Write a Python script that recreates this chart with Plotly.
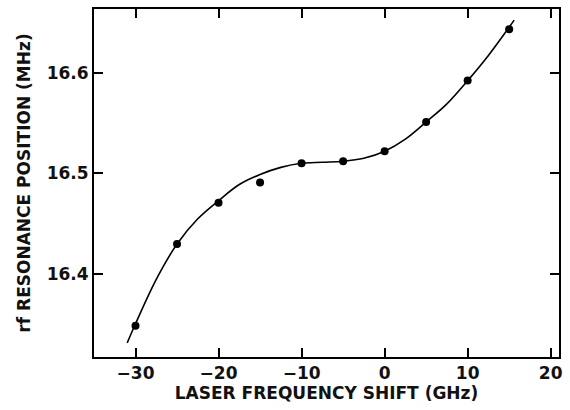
import plotly.graph_objects as go

# Measured points
shift_ghz = [-30, -25, -20, -15, -10, -5, 0, 5, 10, 15]
rf_mhz = [16.349, 16.430, 16.471, 16.491, 16.510, 16.512, 16.522, 16.551, 16.592, 16.643]

# Smooth fitted curve
curve_x = [-31, -30, -27.5, -25, -22.5, -20, -17.5, -15, -12.5, -10, -7.5, -5, -2.5, 0, 2.5, 5, 7.5, 10, 12.5, 15, 15.6]
curve_y = [16.332, 16.351, 16.395, 16.430, 16.455, 16.473, 16.489, 16.499, 16.506, 16.510, 16.511, 16.512, 16.515, 16.522, 16.534, 16.551, 16.569, 16.592, 16.617, 16.645, 16.652]

x_ticks = [-30, -20, -10, 0, 10, 20]
y_ticks = [16.4, 16.5, 16.6]

font = dict(family="DejaVu Sans, Arial, sans-serif", size=17, color="#111111")

fig = go.Figure()
fig.add_trace(go.Scatter(x=curve_x, y=curve_y, mode="lines",
                         line=dict(color="black", width=1.6, shape="spline", smoothing=1.0),
                         hoverinfo="skip", showlegend=False))
fig.add_trace(go.Scatter(x=shift_ghz, y=rf_mhz, mode="markers",
                         marker=dict(color="black", size=8), showlegend=False))

axis_common = dict(showgrid=False, zeroline=False, showline=True, linecolor="black",
                   linewidth=2, mirror="ticks", ticks="inside", ticklen=9,
                   tickwidth=1.5, tickcolor="black", tickfont=font)

fig.update_xaxes(range=[-35.0, 21.0], tickvals=x_ticks,
                 ticktext=[("<b>\u2212" + str(-v) + "</b>") if v < 0 else f"<b>{v}</b>" for v in x_ticks],
                 title=dict(text="<b>LASER FREQUENCY SHIFT (GHz)</b>", font=font, standoff=3),
                 **axis_common)
fig.update_yaxes(range=[16.318, 16.663], tickvals=y_ticks,
                 ticktext=[f"<b>{v:.1f}</b>" for v in y_ticks],
                 title=dict(text="<b>rf RESONANCE POSITION (MHz)</b>", font=font, standoff=12),
                 **axis_common)

fig.update_layout(width=570, height=410, margin=dict(l=94, r=9, t=7, b=53),
                  paper_bgcolor="white", plot_bgcolor="white", font=font)

fig.write_html("out.html")
